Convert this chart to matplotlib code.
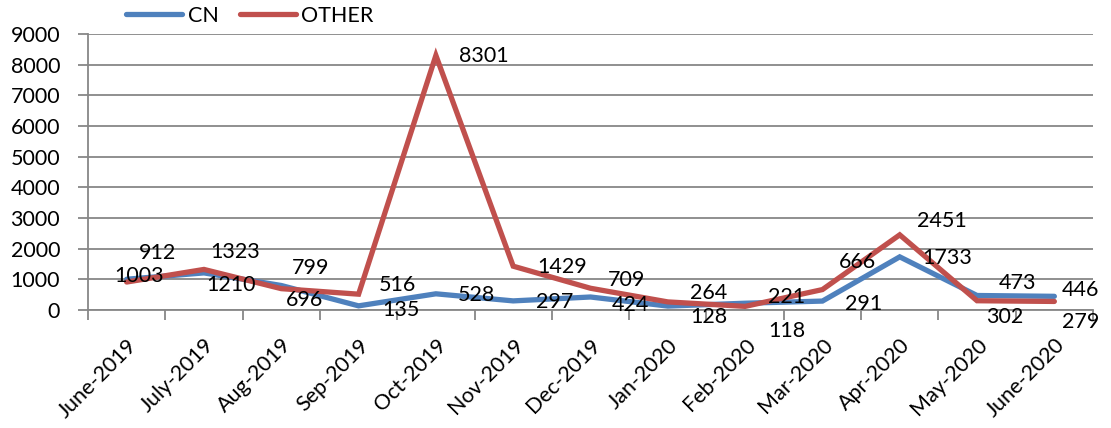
import matplotlib
matplotlib.use("Agg")
import matplotlib.pyplot as plt
from matplotlib.ticker import FixedLocator, MultipleLocator

plt.rcParams['font.family'] = ['Lato', 'DejaVu Sans']

months = ["June-2019", "July-2019", "Aug-2019", "Sep-2019", "Oct-2019", "Nov-2019",
          "Dec-2019", "Jan-2020", "Feb-2020", "Mar-2020", "Apr-2020", "May-2020", "June-2020"]
cn = [1003, 1210, 799, 135, 528, 297, 424, 128, 221, 291, 1733, 473, 446]
other = [912, 1323, 696, 516, 8301, 1429, 709, 264, 118, 666, 2451, 302, 279]

# label offsets in pixels (dx right, dy down) relative to each point
cn_off = [(12, -3), (27, 12), (29, -17), (42, 4), (41, 1), (41, 1), (40, 8),
          (41, 11), (41, -6), (41, 3), (48, 1), (40, -12), (26, -6)]
other_off = [(31, -29), (31, -17), (23, 11), (39, -9), (48, 1), (49, 1), (36, -8),
             (41, -9), (42, 25), (35, -28), (42, -14), (28, 16), (26, 21)]

W, H = 1111, 428
fig = plt.figure(figsize=(W / 100, H / 100), dpi=100)
ax = fig.add_axes([88 / W, 1 - 310 / H, (1093 - 88) / W, (310 - 34) / H])

blue = "#4F81BD"
red = "#C0504D"
grid_c = "#878787"
fs = 15.5

x = list(range(len(months)))
l1, = ax.plot(x, cn, color=blue, lw=3.8, solid_capstyle='round', solid_joinstyle='miter', label="CN", zorder=3)
l2, = ax.plot(x, other, color=red, lw=3.8, solid_capstyle='round', solid_joinstyle='miter', label="OTHER", zorder=4)

for xi, v, (dx, dy) in zip(x, cn, cn_off):
    ax.annotate(str(v), (xi, v), xytext=(dx, -dy), textcoords='offset pixels',
                ha='center', va='center', fontsize=fs, color='black', zorder=5, annotation_clip=False)
for xi, v, (dx, dy) in zip(x, other, other_off):
    ax.annotate(str(v), (xi, v), xytext=(dx, -dy), textcoords='offset pixels',
                ha='center', va='center', fontsize=fs, color='black', zorder=5, annotation_clip=False)

ax.set_xlim(-0.5, len(months) - 0.5)
ax.set_ylim(0, 9000)
ax.yaxis.set_major_locator(MultipleLocator(1000))
ax.yaxis.grid(True, color=grid_c, lw=1.3)
ax.set_axisbelow(True)

ax.set_xticks(x)
ax.set_xticklabels(months, rotation=45, ha='right', rotation_mode='anchor', fontsize=fs)
ax.xaxis.set_minor_locator(FixedLocator([i - 0.5 for i in range(len(months) + 1)]))
ax.tick_params(axis='x', which='major', length=0, pad=18)
ax.tick_params(axis='x', which='minor', length=7, width=1.3, color=grid_c, direction='out')
ax.tick_params(axis='y', which='major', length=7, width=1.3, color=grid_c, direction='out', pad=13, labelsize=fs)

for s in ['top', 'right']:
    ax.spines[s].set_visible(False)
for s in ['left', 'bottom']:
    ax.spines[s].set_color(grid_c)
    ax.spines[s].set_linewidth(1.3)

fig.legend(handles=[l1, l2], loc='center', bbox_to_anchor=(250 / W, 1 - 16 / H), ncol=2,
           frameon=False, fontsize=fs, handlelength=2.6, handletextpad=0.25, columnspacing=1.0,
           borderaxespad=0, borderpad=0)

fig.savefig("out.png", dpi=100)
